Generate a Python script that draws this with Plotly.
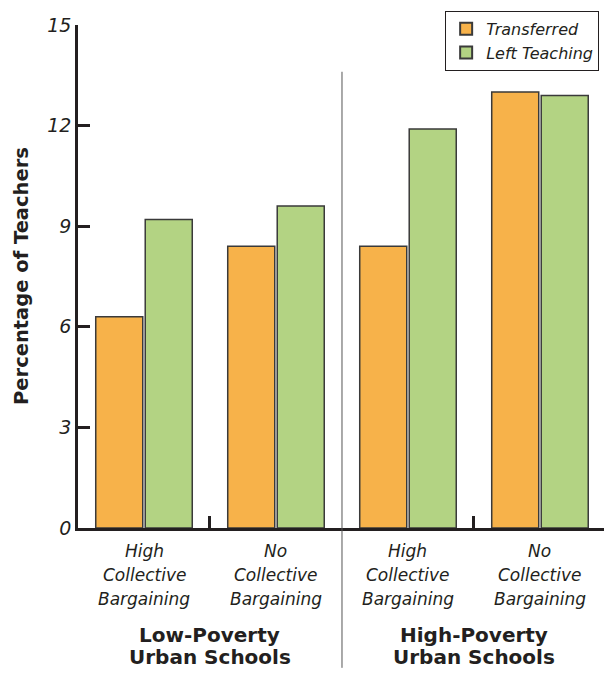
import plotly.graph_objects as go

categories = [0, 1, 2, 3]
cat_lines = [["High", "Collective", "Bargaining"],
             ["No", "Collective", "Bargaining"],
             ["High", "Collective", "Bargaining"],
             ["No", "Collective", "Bargaining"]]
group_lines = [["Low-Poverty", "Urban Schools"],
               ["High-Poverty", "Urban Schools"]]
group_centers = [0.5, 2.5]
transferred = [6.3, 8.4, 8.4, 13.0]
left_teaching = [9.2, 9.6, 11.9, 12.9]
y_ticks = [0, 3, 6, 9, 12, 15]

ORANGE = "#F7B24A"
GREEN = "#B3D383"
OUTLINE = "#3a3a3a"
INK = "#231f20"
FONT = "DejaVu Sans"

fig = go.Figure()
fig.add_bar(x=categories, y=transferred, name="Transferred",
            marker=dict(color=ORANGE, line=dict(color=OUTLINE, width=1.5)))
fig.add_bar(x=categories, y=left_teaching, name="Left Teaching",
            marker=dict(color=GREEN, line=dict(color=OUTLINE, width=1.5)))

fig.update_layout(
    width=604, height=673,
    margin=dict(l=78, r=0, t=25, b=145, autoexpand=False),
    plot_bgcolor="white", paper_bgcolor="white",
    barmode="group", bargap=0.25, bargroupgap=0.05,
    font=dict(family=FONT, color=INK),
    showlegend=True,
    legend=dict(x=0.698, y=1.028, xanchor="left", yanchor="top",
                bordercolor=INK, borderwidth=1, bgcolor="white",
                font=dict(size=16, style="italic", family=FONT, color=INK),
                tracegroupgap=0, itemsizing="constant"),
    xaxis=dict(range=[-0.5, 3.485], tickvals=[0.5, 2.5], ticks="inside",
               ticklen=12, tickwidth=2.5, tickcolor=INK,
               showticklabels=False, showgrid=False, zeroline=False,
               showline=True, linewidth=2.5, linecolor=INK),
    yaxis=dict(range=[0, 15], tickvals=y_ticks, ticks="inside", ticklen=12,
               tickwidth=2.5, tickcolor=INK, showgrid=False,
               zeroline=False, showline=True, linewidth=2.5,
               linecolor=INK,
               tickfont=dict(size=19, style="italic", family=FONT, color=INK)),
)

# divider between groups
fig.add_shape(type="line", xref="x", yref="paper", x0=1.5, x1=1.5,
              y0=-0.278, y1=0.907, line=dict(color="#555555", width=1))

# category labels, one line each
for c, lines in zip(categories, cat_lines):
    for i, t in enumerate(lines):
        fig.add_annotation(x=c, xref="x", y=0, yref="paper", yanchor="middle",
                           yshift=-23 - 24 * i, text=t, showarrow=False,
                           font=dict(size=17, style="italic", family=FONT,
                                     color=INK))

# group labels, one line each
for gx, lines in zip(group_centers, group_lines):
    for i, t in enumerate(lines):
        fig.add_annotation(x=gx, xref="x", y=0, yref="paper", yanchor="middle",
                           yshift=-107 - 22 * i, text="<b>" + t + "</b>",
                           showarrow=False,
                           font=dict(size=20, family=FONT, color=INK))

# y title
fig.add_annotation(x=0, xref="paper", y=0.5, yref="paper", xshift=-70,
                   text="<b>Percentage of Teachers</b>", textangle=-90,
                   showarrow=False, font=dict(size=19.5, family=FONT,
                                              color=INK))

fig.write_html("out.html", config={"displayModeBar": False},
               post_script="document.body.style.margin='0';")
